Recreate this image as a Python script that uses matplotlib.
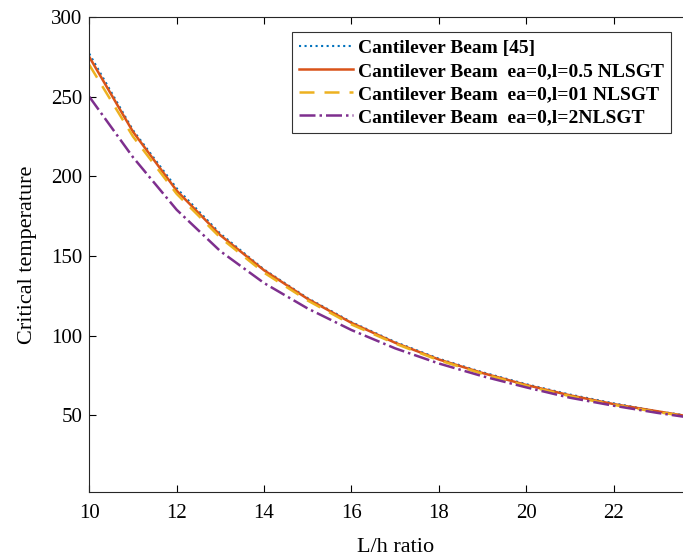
import numpy as np
import matplotlib.pyplot as plt

# L/h ratio and critical temperature
lh = [10, 11, 12, 13, 14, 15, 16, 17, 18, 19, 20, 21, 22, 23, 24]
ref45 = [277, 229, 192.5, 164, 141.5, 123.5, 108.5, 96, 85.5, 77, 69.5, 63, 57.5, 52.5, 48.5]
nl_05 = [275, 228, 191, 163, 141, 123, 108, 95.5, 85, 76.5, 69, 62.5, 57, 52.5, 48]
nl_01 = [270, 225, 189, 161.5, 139.5, 122, 107, 95, 84.5, 76, 68.5, 62, 56.5, 52, 48]
nl_2 = [250, 212, 179, 153, 133, 117, 103.5, 92, 82.5, 74.5, 67.5, 61, 56, 51.5, 47.5]

labels = ['Cantilever Beam [45]',
          'Cantilever Beam  ea=0,l=0.5 NLSGT',
          'Cantilever Beam  ea=0,l=01 NLSGT',
          'Cantilever Beam  ea=0,l=2NLSGT']

plt.rcParams['font.family'] = ['Liberation Serif', 'DejaVu Serif']

fig = plt.figure(figsize=(6.83, 5.57), dpi=100)
ax = fig.add_axes([0.1307, 0.1172, 0.8958, 0.8522])

ax.plot(lh, ref45, ':', color='#0072BD', lw=1.5, label=labels[0])
ax.plot(lh, nl_05, '-', color='#D95319', lw=1.8, label=labels[1])
ax.plot(lh, nl_01, '--', color='#EDB120', lw=1.8, dashes=(6, 4), label=labels[2])
ax.plot(lh, nl_2, '-.', color='#7E2F8E', lw=1.8, label=labels[3])

ax.set_xlim(10, 24)
ax.set_ylim(2, 300)
ax.set_xticks([10, 12, 14, 16, 18, 20, 22])
ax.set_yticks([50, 100, 150, 200, 250, 300])
ax.tick_params(direction='in', labelsize=15, top=True, right=True, length=5, width=0.8)
ax.tick_params(axis='x', pad=9)
ax.tick_params(axis='y', pad=5)
for s in ax.spines.values():
    s.set_linewidth(0.8)
    s.set_color('#262626')

ax.set_xlabel('L/h ratio', fontsize=16, labelpad=11)
ax.set_ylabel('Critical temperature', fontsize=16, labelpad=10)

leg = ax.legend(loc='upper left', bbox_to_anchor=(0.3318, 0.9678),
                prop={'weight': 'bold', 'size': 14}, frameon=True, fancybox=False,
                edgecolor='black', handlelength=2.75, labelspacing=0.28,
                handletextpad=0.26, borderpad=0.36, borderaxespad=0)
leg.get_frame().set_linewidth(0.8)

fig.savefig('out.png', dpi=100)
